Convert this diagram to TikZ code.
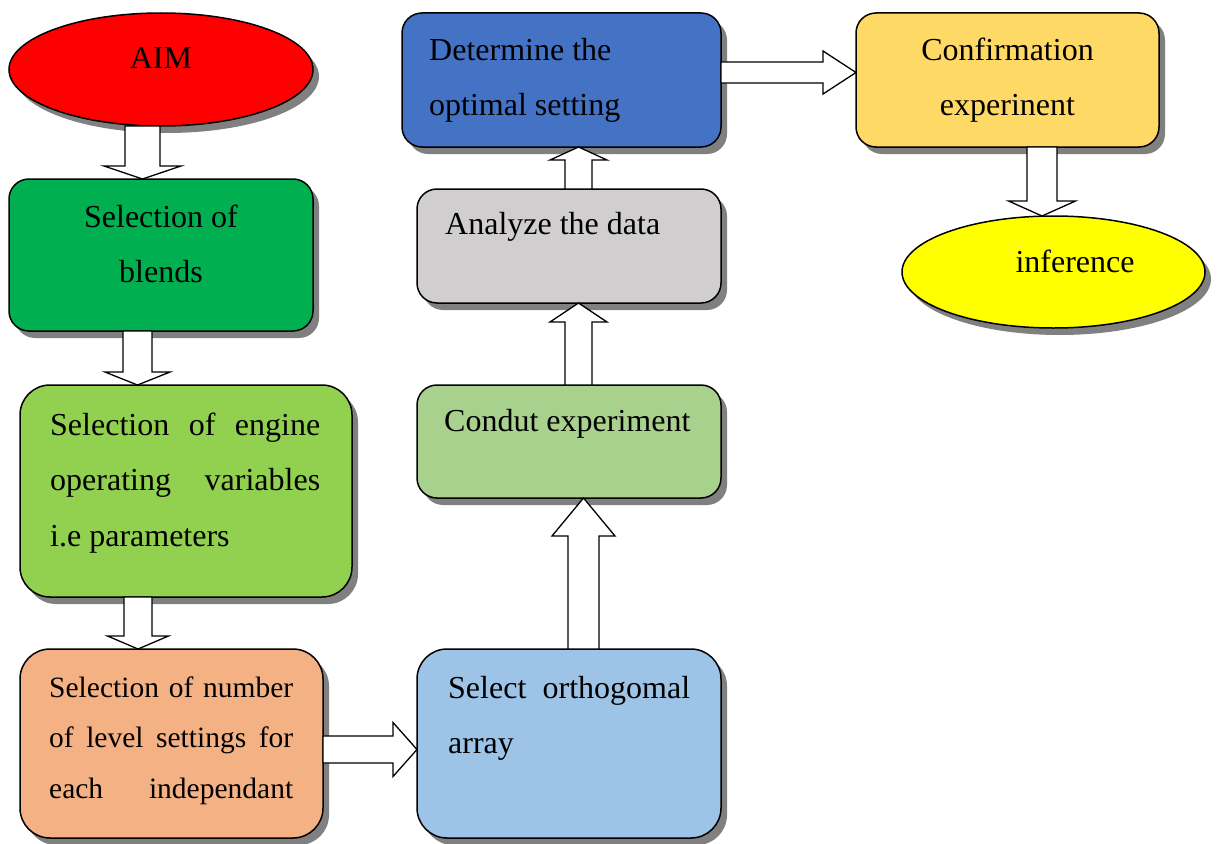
\documentclass[tikz,border=0pt]{standalone}
\usepackage{fontspec}
\setmainfont{Liberation Serif}
\usetikzlibrary{shapes.geometric,shadows,calc}
\definecolor{aimred}{HTML}{FF0000}
\definecolor{blendgreen}{HTML}{00B050}
\definecolor{enggreen}{HTML}{92D050}
\definecolor{levpeach}{HTML}{F4B183}
\definecolor{orthblue}{HTML}{9DC3E6}
\definecolor{condgreen}{HTML}{A9D18E}
\definecolor{anagray}{HTML}{D0CECE}
\definecolor{detblue}{HTML}{4472C4}
\definecolor{confyellow}{HTML}{FFD966}
\definecolor{infyellow}{HTML}{FFFF00}
\definecolor{shadowgray}{HTML}{808080}
\tikzset{
  shadowed/.style={drop shadow={shadow xshift=6pt, shadow yshift=-7pt, fill=shadowgray, opacity=1}},
  box/.style={draw=black, line width=1.5pt, rounded corners=#1, shadowed, inner sep=0pt, outer sep=0pt},
  box/.default=20pt,
  oval/.style={ellipse, draw=black, line width=1.5pt, shadowed, inner sep=0pt, outer sep=0pt},
  txt/.style={anchor=base west, inner sep=0pt, font=\fontsize{32}{55.5}\selectfont},
  ctxt/.style={txt, anchor=base},
  blockarr/.style={draw=black, fill=white, line width=1.3pt, line join=miter}
}
% start, tip, half shaft, half head, head length
\newcommand\flowarrow[5]{%
  \coordinate (ba-s) at (#1);
  \coordinate (ba-t) at (#2);
  \coordinate (ba-b) at ($(ba-t)!#5!(ba-s)$);
  \draw[blockarr] ($(ba-s)!#3!90:(ba-t)$) -- ($(ba-b)!#3!-90:(ba-s)$) -- ($(ba-b)!#4!-90:(ba-s)$) -- (ba-t)
    -- ($(ba-b)!#4!90:(ba-s)$) -- ($(ba-b)!#3!90:(ba-s)$) -- ($(ba-s)!#3!-90:(ba-t)$) -- cycle;}
\begin{document}
\begin{tikzpicture}[x=1pt,y=-1pt]
\useasboundingbox (0,0) rectangle (1217,843);
% shapes
\node[oval, fill=aimred, minimum width=304pt, minimum height=113pt] (aim) at (161,69.5) {};
\node[box, fill=blendgreen, minimum width=304pt, minimum height=152pt] (blends) at (161,255) {};
\node[box=30pt, fill=enggreen, minimum width=332pt, minimum height=212pt] (engine) at (186,491) {};
\node[box=30pt, fill=levpeach, minimum width=303pt, minimum height=189pt] (level) at (171.5,743.5) {};
\node[box=30pt, fill=orthblue, minimum width=304pt, minimum height=189pt] (orth) at (569,743.5) {};
\node[box, fill=condgreen, minimum width=304pt, minimum height=113pt] (condut) at (569,441.5) {};
\node[box, fill=anagray, minimum width=304pt, minimum height=114pt] (analyze) at (569,246) {};
\node[box, fill=detblue, minimum width=319pt, minimum height=134pt] (det) at (561.5,80) {};
\node[box, fill=confyellow, minimum width=303pt, minimum height=134pt] (conf) at (1007.5,80) {};
\node[oval, fill=infyellow, minimum width=303pt, minimum height=112pt] (inf) at (1053.5,272) {};
% texts
\node[ctxt] (taim) at (161,69) {AIM};
\node[ctxt] (tblends) at (161,227) {\parbox[t]{300pt}{\centering Selection of\\blends}};
\node[txt] (tengine) at (50,435) {\parbox[t]{270pt}{\makebox[\linewidth][s]{Selection of engine}\\\makebox[\linewidth][s]{operating variables}\\i.e parameters}};
\node[txt, font=\fontsize{29.5}{50.5}\selectfont] (tlevel) at (49,697) {\parbox[t]{244pt}{\makebox[\linewidth][s]{Selection of number}\\\makebox[\linewidth][s]{of level settings for}\\\makebox[\linewidth][s]{each independant}}};
\node[txt] (torth) at (448,698) {\parbox[t]{242pt}{\makebox[\linewidth][s]{Select orthogomal}\\array}};
\node[txt] (tcondut) at (444,431) {Condut experiment};
\node[txt] (tanalyze) at (445,234) {Analyze the data};
\node[txt] (tdet) at (429,60) {\parbox[t]{280pt}{Determine the\\optimal setting}};
\node[ctxt] (tconf) at (1007.5,60) {\parbox[t]{300pt}{\centering Confirmation\\experinent}};
\node[ctxt] (tinf) at (1075,272) {inference};
% connector guides
\coordinate (c1) at (142.5,0);
\coordinate (c2) at (137.5,0);
\coordinate (c3) at (138,0);
\coordinate (r4) at (0,749.5);
\coordinate (c5) at (583.5,0);
\coordinate (c6) at (578.5,0);
\coordinate (r8) at (0,72.5);
\coordinate (c9) at (1042,0);
% block arrows
\flowarrow{aim.south -| c1}{blends.north -| c1}{17.5pt}{38.5pt}{13pt}
\flowarrow{blends.south -| c2}{engine.north -| c2}{14.5pt}{32.5pt}{13pt}
\flowarrow{engine.south -| c3}{level.north -| c3}{14pt}{30.5pt}{13pt}
\flowarrow{level.east |- r4}{orth.west |- r4}{13.5pt}{27pt}{24pt}
\flowarrow{orth.north -| c5}{condut.south -| c5}{15.5pt}{31.5pt}{38pt}
\flowarrow{condut.north -| c6}{analyze.south -| c6}{13.5pt}{28.5pt}{19pt}
\flowarrow{analyze.north -| c6}{det.south -| c6}{13.5pt}{28.5pt}{13pt}
\flowarrow{det.east |- r8}{conf.west |- r8}{10.5pt}{21.5pt}{33pt}
\flowarrow{conf.south -| c9}{inf.north -| c9}{15pt}{33.5pt}{15pt}
\end{tikzpicture}
\end{document}
